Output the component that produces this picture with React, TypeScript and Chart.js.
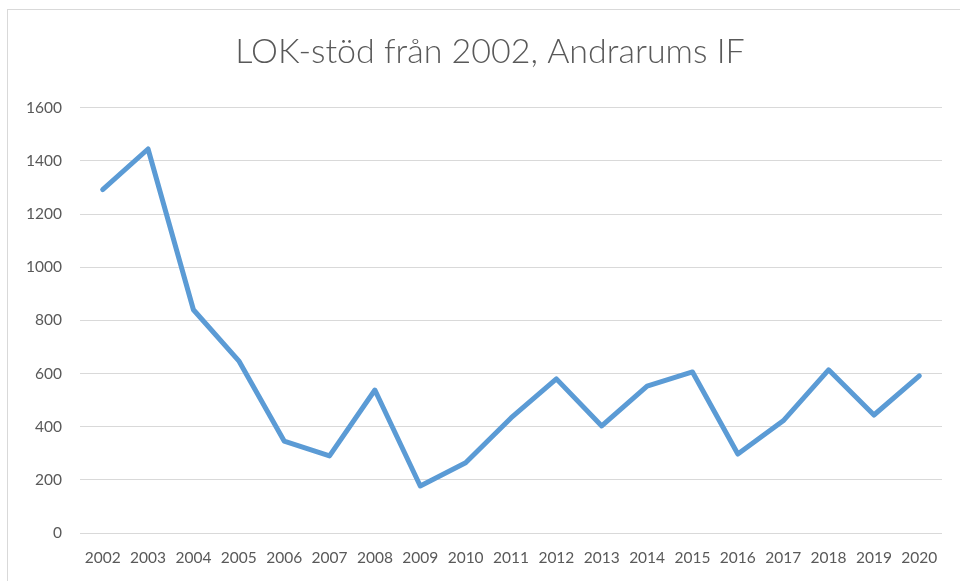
import React, { useEffect, useRef } from "react";
import { Chart, registerables } from "chart.js";

Chart.register(...registerables);

const years = ["2002","2003","2004","2005","2006","2007","2008","2009","2010","2011","2012","2013","2014","2015","2016","2017","2018","2019","2020"];
const lokValues = [1292, 1445, 840, 648, 346, 290, 538, 177, 264, 433, 580, 403, 553, 606, 297, 422, 614, 444, 591];
const yTicks = { min: 0, max: 1600, step: 200 };
const titleText = "LOK-stöd från 2002, Andrarums IF";

export default function App() {
  const ref = useRef<HTMLCanvasElement | null>(null);
  useEffect(() => {
    if (!ref.current) return;
    const chart = new Chart(ref.current, {
      type: "line",
      data: {
        labels: years,
        datasets: [
          {
            label: "LOK-stöd",
            data: lokValues,
            borderColor: "#5B9BD5",
            backgroundColor: "#5B9BD5",
            borderWidth: 5,
            pointRadius: 0,
            borderCapStyle: "round",
            borderJoinStyle: "round",
            tension: 0,
            yAxisID: "y",
          },
        ],
      },
      options: {
        responsive: false,
        animation: false,
        layout: { padding: { left: 0, right: 0, top: 0, bottom: 0 } },
        plugins: {
          legend: { display: false },
          tooltip: { enabled: false },
          title: {
            display: true,
            text: titleText,
            color: "#595959",
            font: { family: "Lato", size: 34, weight: 300 },
            padding: { top: 22, bottom: 35 },
          },
        },
        scales: {
          x: {
            offset: true,
            grid: { display: false, drawTicks: false },
            border: { display: false },
            ticks: {
              color: "#595959",
              font: { family: "Lato", size: 15.5 },
              padding: 16,
              maxRotation: 0,
              autoSkip: false,
            },
            afterFit: (s: any) => { s.height = 57; },
          },
          y: {
            min: yTicks.min,
            max: yTicks.max,
            grid: { color: "#d9d9d9", lineWidth: 1, drawTicks: false },
            border: { display: false },
            ticks: {
              stepSize: yTicks.step,
              color: "#595959",
              font: { family: "Lato", size: 15.5 },
              padding: 18,
              callback: (v: any) => String(v),
            },
            afterFit: (s: any) => { s.width = 72; },
          },
          yRight: {
            position: "right",
            min: 0,
            max: 1,
            grid: { display: false, drawTicks: false },
            border: { display: false },
            ticks: { display: false },
            afterFit: (s: any) => { s.width = 30; },
          },
        },
      },
    });
    return () => chart.destroy();
  }, []);

  return (
    <div style={{ position: "fixed", left: 0, top: 0, width: 960, height: 581, overflow: "hidden", background: "#fff" }}>
      <div style={{ position: "absolute", left: 7, top: 9, width: 964, height: 580, border: "1px solid #d9d9d9" }}>
        <canvas ref={ref} width={964} height={580} style={{ display: "block" }} />
      </div>
    </div>
  );
}
